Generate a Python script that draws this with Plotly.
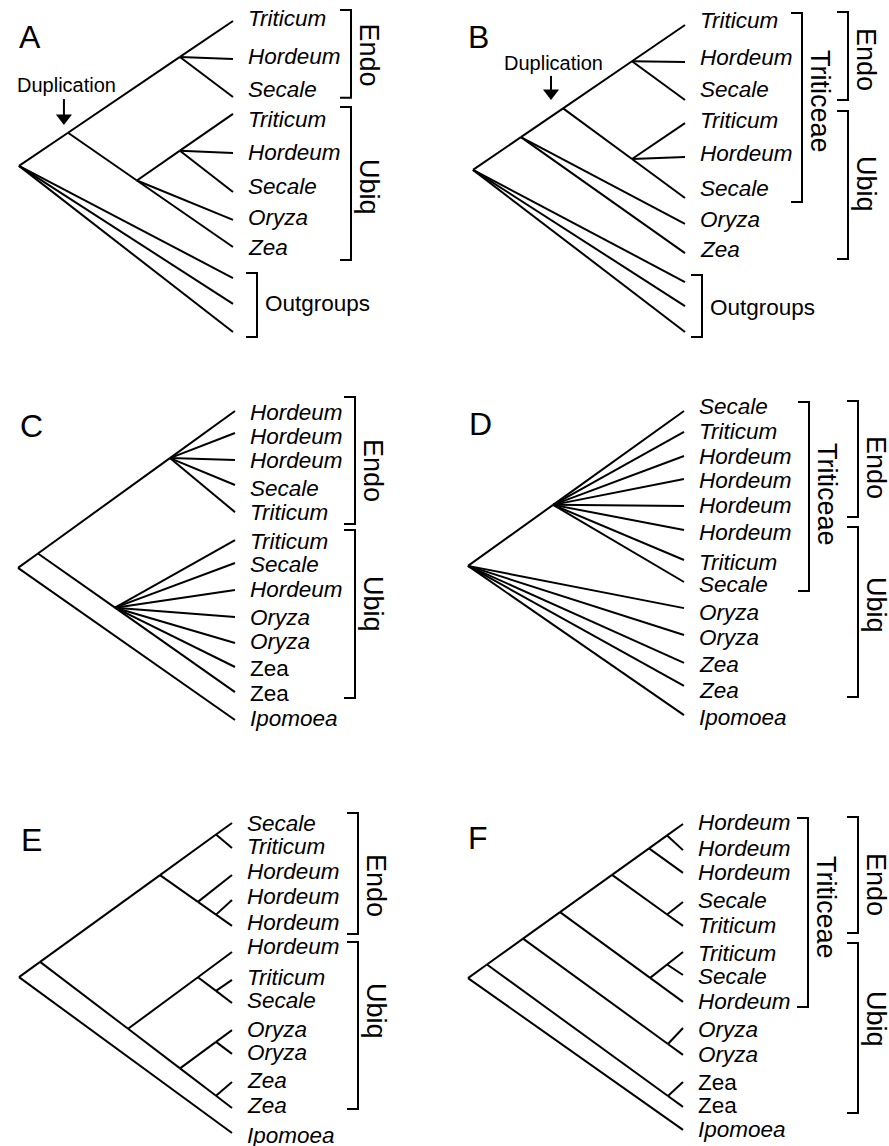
import plotly.graph_objects as go

# ======================= DATA =======================
# Tree coordinates: depth 0 = root, 1 = tips; rows = leaf rows (top leaf = 0).

# ---- Panel A ----
A_labels = ["Triticum", "Hordeum", "Secale", "Triticum", "Hordeum", "Secale", "Oryza", "Zea", "", "", ""]
A_italic = [True, True, True, True, True, True, True, True, False, False, False]
A_tip_rows = [0.0, 1.48, 2.97, 3.63, 5.16, 6.68, 7.77, 8.83, 10.04, 11.05, 12.15]
A_label_rows = [-0.08, 1.39, 2.68, 3.83, 5.14, 6.48, 7.68, 8.83, None, None, None]
A_root_row = 5.66
A_nodes = {"root": (0.0, ["dup", 8, 9, 10]),
           "dup": (0.229, ["endo", "ubiq"]),
           "endo": (0.752, [0, 1, 2]),
           "ubiq": (0.551, ["ubiqT", 6, 7]),
           "ubiqT": (0.752, [3, 4, 5])}
A_groups = [("Endo", -0.43, 3.00, 1.31, "inner"),
            ("Ubiq", 3.36, 9.34, 6.48, "inner"),
            ("Outgroups", 9.84, 12.34, 11.05, "og")]
# duplication: text depth, text row, arrow depth, arrow top row, arrow tip row
A_dup = (0.224, 2.50, 0.210, 3.05, 4.06)

# ---- Panel B ----
B_labels = ["Triticum", "Hordeum", "Secale", "Triticum", "Hordeum", "Secale", "Oryza", "Zea", "", "", ""]
B_italic = [True, True, True, True, True, True, True, True, False, False, False]
B_tip_rows = [0.0, 1.45, 2.93, 3.83, 5.16, 6.76, 7.77, 8.91, 10.04, 10.98, 11.99]
B_label_rows = [-0.16, 1.25, 2.52, 3.73, 5.02, 6.37, 7.58, 8.75, None, None, None]
B_root_row = 5.66
B_nodes = {"root": (0.0, ["n1", 8, 9, 10]),
           "n1": (0.226, ["n2", 6, 7]),
           "n2": (0.425, ["endo", "ubiqT"]),
           "endo": (0.75, [0, 1, 2]),
           "ubiqT": (0.75, [3, 4, 5])}
B_groups = [("Triticeae", -0.47, 6.91, 2.97, "inner"),
            ("Endo", -0.51, 2.93, 1.33, "outer"),
            ("Ubiq", 3.36, 9.14, 6.21, "outer"),
            ("Outgroups", 9.77, 12.19, 11.04, "og")]
B_dup = (0.382, 1.48, 0.368, 1.99, 2.93)

# ---- Panel C ----
C_labels = ["Hordeum", "Hordeum", "Hordeum", "Secale", "Triticum", "Triticum", "Secale",
            "Hordeum", "Oryza", "Oryza", "Zea", "Zea", "Ipomoea"]
C_italic = [True] * 10 + [False, False, True]
C_tip_rows = [0.0, 0.86, 1.91, 2.89, 3.95, 5.04, 5.94, 6.99, 8.05, 9.06, 10.0, 10.98, 12.07]
C_label_rows = [0.04, 0.98, 1.95, 3.01, 3.98, 5.08, 5.98, 6.99, 8.05, 9.02, 10.04, 11.02, 12.03]
C_root_row = 6.13
C_nodes = {"root": (0.0, ["n1", 12]),
           "n1": (0.092, ["endo", "ubiq"]),
           "endo": (0.70, [0, 1, 2, 3, 4]),
           "ubiq": (0.447, [5, 6, 7, 8, 9, 10, 11])}
C_groups = [("Endo", -0.55, 4.41, 2.30, "inner"),
            ("Ubiq", 4.65, 11.21, 7.54, "inner")]

# ---- Panel D ----
D_labels = ["Secale", "Triticum", "Hordeum", "Hordeum", "Hordeum", "Hordeum", "Triticum",
            "Secale", "Oryza", "Oryza", "Zea", "Zea", "Ipomoea"]
D_italic = [True] * 13
D_tip_rows = [0.0, 0.82, 1.76, 2.66, 3.71, 4.65, 5.82, 6.68, 7.70, 8.75, 9.84, 10.74, 11.88]
D_label_rows = [-0.16, 0.82, 1.76, 2.70, 3.71, 4.73, 5.90, 6.76, 7.89, 8.83, 9.92, 10.90, 11.99]
D_root_row = 6.05
D_nodes = {"root": (0.0, ["tri", 8, 9, 10, 11, 12]),
           "tri": (0.394, [0, 1, 2, 3, 4, 5, 6, 7])}
D_groups = [("Triticeae", -0.35, 7.03, 3.24, "inner"),
            ("Endo", -0.39, 4.14, 2.19, "outer"),
            ("Ubiq", 4.53, 11.17, 7.58, "outer")]

# ---- Panel E ----
E_labels = ["Secale", "Triticum", "Hordeum", "Hordeum", "Hordeum", "Hordeum", "Triticum",
            "Secale", "Oryza", "Oryza", "Zea", "Zea", "Ipomoea"]
E_italic = [True] * 13
E_tip_rows = [0.0, 0.98, 2.03, 3.01, 4.02, 5.04, 6.13, 7.03, 8.09, 9.02, 10.12, 11.13, 12.11]
E_label_rows = [0.0, 0.90, 1.91, 2.89, 3.87, 4.84, 6.02, 6.95, 8.05, 8.98, 10.04, 11.02, 12.19]
E_root_row = 6.02
E_nodes = {"root": (0.0, ["n1", 12]),
           "n1": (0.099, ["endo", "ubiq"]),
           "endo": (0.662, ["st", "h3"]),
           "st": (0.925, [0, 1]),
           "h3": (0.84, [2, "hh"]),
           "hh": (0.925, [3, 4]),
           "ubiq": (0.512, ["t3", "oz"]),
           "t3": (0.84, [5, "ts"]),
           "ts": (0.925, [6, 7]),
           "oz": (0.756, ["oo", "zz"]),
           "oo": (0.925, [8, 9]),
           "zz": (0.925, [10, 11])}
E_groups = [("Endo", -0.39, 4.34, 2.42, "inner"),
            ("Ubiq", 4.65, 11.17, 7.34, "inner")]

# ---- Panel F ----
F_labels = ["Hordeum", "Hordeum", "Hordeum", "Secale", "Triticum", "Triticum", "Secale",
            "Hordeum", "Oryza", "Oryza", "Zea", "Zea", "Ipomoea"]
F_italic = [True] * 10 + [False, False, True]
F_tip_rows = [0.0, 1.02, 1.91, 3.05, 3.98, 5.0, 5.9, 6.95, 7.97, 9.02, 10.08, 11.05, 11.95]
F_label_rows = [-0.04, 0.94, 1.91, 2.97, 3.95, 5.04, 5.94, 6.95, 8.01, 9.02, 10.08, 10.98, 11.95]
F_root_row = 6.02
F_nodes = {"root": (0.0, ["n1", 12]),
           "n1": (0.088, ["n2", "zz"]),
           "n2": (0.256, ["n3", "oo"]),
           "n3": (0.428, ["n4", "ut"]),
           "n4": (0.67, ["n5", "st"]),
           "n5": (0.842, ["hh", 2]),
           "hh": (0.926, [0, 1]),
           "st": (0.926, [3, 4]),
           "ut": (0.847, ["ts", 7]),
           "ts": (0.926, [5, 6]),
           "oo": (0.93, [8, 9]),
           "zz": (0.93, [10, 11])}
F_groups = [("Triticeae", -0.23, 7.15, 3.24, "inner"),
            ("Endo", -0.27, 4.26, 2.34, "outer"),
            ("Ubiq", 4.65, 11.29, 7.62, "outer")]

# ======================= LAYOUT / STYLE =======================
W, H = 889, 1146
YS = 25.6                     # px per leaf row
FONT = "Liberation Sans, Arial, Helvetica, sans-serif"
LW = 2
LABEL_SIZE = 22.5
GROUP_SIZE = 27
LETTER_SIZE = 32
DUP_SIZE = 20
TICK = 11                     # bracket tick length, px
GROUP_GAP = 18                # bracket -> group label centre, px

PANEL_LAYOUT = {
    "A": dict(origin=(19, 21), xs=214, box=(0, 0, 444.5, 372), cols={"inner": 118, "og": 24}, letter=(30, 37)),
    "B": dict(origin=(473, 25), xs=212, box=(444.5, 0, 889, 372), cols={"inner": 117, "outer": 163, "og": 17}, letter=(479, 37)),
    "C": dict(origin=(18, 411), xs=217, box=(0, 372, 444.5, 775), cols={"inner": 120}, letter=(31, 426)),
    "D": dict(origin=(468, 411), xs=216, box=(444.5, 372, 889, 775), cols={"inner": 125, "outer": 174}, letter=(480, 424)),
    "E": dict(origin=(19, 823), xs=213, box=(0, 775, 444.5, 1146), cols={"inner": 126}, letter=(31, 840)),
    "F": dict(origin=(468, 824), xs=215, box=(444.5, 775, 889, 1146), cols={"inner": 125, "outer": 175}, letter=(478, 838)),
}

panels = [
    dict(key="A", labels=A_labels, italic=A_italic, tips=A_tip_rows, lrows=A_label_rows, root=A_root_row, nodes=A_nodes, groups=A_groups, dup=A_dup),
    dict(key="B", labels=B_labels, italic=B_italic, tips=B_tip_rows, lrows=B_label_rows, root=B_root_row, nodes=B_nodes, groups=B_groups, dup=B_dup),
    dict(key="C", labels=C_labels, italic=C_italic, tips=C_tip_rows, lrows=C_label_rows, root=C_root_row, nodes=C_nodes, groups=C_groups, dup=None),
    dict(key="D", labels=D_labels, italic=D_italic, tips=D_tip_rows, lrows=D_label_rows, root=D_root_row, nodes=D_nodes, groups=D_groups, dup=None),
    dict(key="E", labels=E_labels, italic=E_italic, tips=E_tip_rows, lrows=E_label_rows, root=E_root_row, nodes=E_nodes, groups=E_groups, dup=None),
    dict(key="F", labels=F_labels, italic=F_italic, tips=F_tip_rows, lrows=F_label_rows, root=F_root_row, nodes=F_nodes, groups=F_groups, dup=None),
]


def layout_tree(nodes, tips, root_row):
    """Slanted cladogram: an edge child lies on the line from its parent to
    the parent's extreme (top / bottom) leaf."""
    pos = {}

    def leaves_of(n):
        if isinstance(n, int):
            return [n]
        out = []
        for c in nodes[n][1]:
            out += leaves_of(c)
        return out

    def place(n, x, y):
        pos[n] = (x, y)
        lv = leaves_of(n)
        top = min(lv, key=lambda k: tips[k])
        bot = max(lv, key=lambda k: tips[k])
        for c in nodes[n][1]:
            if isinstance(c, int):
                continue
            cx = nodes[c][0]
            clv = leaves_of(c)
            if top in clv:
                target = tips[top]
            elif bot in clv:
                target = tips[bot]
            else:
                target = sum(tips[k] for k in clv) / len(clv)
            cy = y + (target - y) * (cx - x) / (1.0 - x)
            place(c, cx, cy)

    place("root", nodes["root"][0], root_row)
    return pos


fig = go.Figure()
annotations = []
axes_layout = {}

for i, p in enumerate(panels, start=1):
    L = PANEL_LAYOUT[p["key"]]
    X0, Y0 = L["origin"]
    XS = L["xs"]
    bx0, by0, bx1, by1 = L["box"]
    sfx = "" if i == 1 else str(i)
    xa, ya = "x" + sfx, "y" + sfx
    axes_layout["xaxis" + sfx] = dict(domain=[bx0 / W, bx1 / W],
                                      range=[(bx0 - X0) / XS, (bx1 - X0) / XS],
                                      visible=False, fixedrange=True, anchor=ya)
    axes_layout["yaxis" + sfx] = dict(domain=[1 - by1 / H, 1 - by0 / H],
                                      range=[(by1 - Y0) / YS, (by0 - Y0) / YS],
                                      visible=False, fixedrange=True, anchor=xa)

    # ---- tree edges ----
    pos = layout_tree(p["nodes"], p["tips"], p["root"])
    ex, ey = [], []
    for n, (depth, children) in p["nodes"].items():
        px_, py_ = pos[n]
        for c in children:
            cx, cy = (1.0, p["tips"][c]) if isinstance(c, int) else pos[c]
            ex += [px_, cx, None]
            ey += [py_, cy, None]
    fig.add_trace(go.Scatter(x=ex, y=ey, mode="lines", xaxis=xa, yaxis=ya,
                             line=dict(color="black", width=LW), hoverinfo="skip",
                             showlegend=False))

    # ---- leaf labels ----
    for lab, it, r in zip(p["labels"], p["italic"], p["lrows"]):
        if not lab:
            continue
        annotations.append(dict(x=1.0, y=r, xref=xa, yref=ya, xanchor="left", yanchor="middle",
                                xshift=13, showarrow=False,
                                text=f"<i>{lab}</i>" if it else lab,
                                font=dict(family=FONT, size=LABEL_SIZE, color="black")))

    # ---- brackets and group labels ----
    bxs, bys = [], []
    for name, top, bot, lrow, col in p["groups"]:
        bxd = 1.0 + L["cols"][col] / XS
        tk = TICK / XS
        bxs += [bxd - tk, bxd, bxd, bxd - tk, None]
        bys += [top, top, bot, bot, None]
        if col == "og":
            annotations.append(dict(x=bxd, y=lrow, xref=xa, yref=ya, xanchor="left", yanchor="middle",
                                    xshift=6, showarrow=False, text=name,
                                    font=dict(family=FONT, size=LABEL_SIZE, color="black")))
        else:
            annotations.append(dict(x=bxd + GROUP_GAP / XS, y=lrow, xref=xa, yref=ya,
                                    xanchor="center", yanchor="middle", textangle=90,
                                    showarrow=False, text=name,
                                    font=dict(family=FONT, size=GROUP_SIZE, color="black")))
    fig.add_trace(go.Scatter(x=bxs, y=bys, mode="lines", xaxis=xa, yaxis=ya,
                             line=dict(color="black", width=LW), hoverinfo="skip",
                             showlegend=False))

    # ---- duplication marker ----
    if p["dup"] is not None:
        tx, trow, ax_, atop, atip = p["dup"]
        annotations.append(dict(x=tx, y=trow, xref=xa, yref=ya, xanchor="center", yanchor="middle",
                                showarrow=False, text="Duplication",
                                font=dict(family=FONT, size=DUP_SIZE, color="black")))
        msize = 14
        r_ = msize / 2.0
        head_h = 0.75 * msize
        fig.add_trace(go.Scatter(x=[ax_, ax_], y=[atop, atip - (head_h - 1) / YS], mode="lines",
                                 xaxis=xa, yaxis=ya, line=dict(color="black", width=LW),
                                 hoverinfo="skip", showlegend=False))
        fig.add_trace(go.Scatter(x=[ax_], y=[atip - r_ / YS], mode="markers", xaxis=xa, yaxis=ya,
                                 marker=dict(symbol="triangle-down", size=msize, color="black",
                                             line=dict(width=0)),
                                 hoverinfo="skip", showlegend=False, cliponaxis=False))

    # ---- panel letter ----
    lx, ly = L["letter"]
    annotations.append(dict(x=lx / W, y=1 - ly / H, xref="paper", yref="paper",
                            xanchor="center", yanchor="middle", showarrow=False, text=p["key"],
                            font=dict(family=FONT, size=LETTER_SIZE, color="black")))

fig.update_layout(width=W, height=H, autosize=False,
                  margin=dict(l=0, r=0, t=0, b=0, pad=0),
                  paper_bgcolor="white", plot_bgcolor="rgba(0,0,0,0)",
                  showlegend=False, annotations=annotations, **axes_layout)

fig.write_html("out.html", config={"displayModeBar": False},
               post_script="document.body.style.margin='0';document.body.style.overflow='hidden';")
